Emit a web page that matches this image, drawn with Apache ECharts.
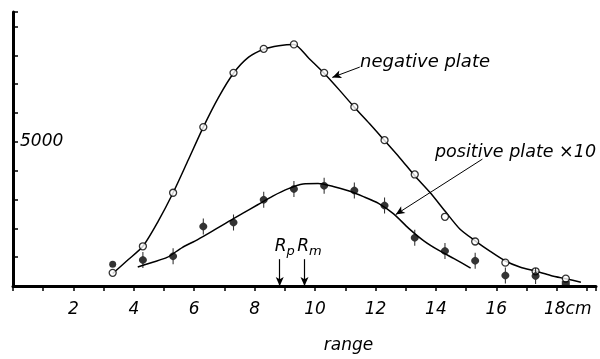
<!DOCTYPE html>
<html>
<head>
<meta charset="utf-8">
<script src="https://cdn.jsdelivr.net/npm/echarts@6/dist/echarts.min.js"></script>
<style>
  html, body { margin: 0; padding: 0; background: #fff; }
  #chart { width: 600px; height: 359px; }
</style>
</head>
<body>
<div id="chart"></div>
<script>
// measured points (range in cm)
const rangeCm = [3.3, 4.3, 5.3, 6.3, 7.3, 8.3, 9.3, 10.3, 11.3, 12.3, 13.3, 14.3, 15.3, 16.3, 17.3, 18.3];
const negativePlate = [457, 1377, 3233, 5510, 7390, 8223, 8377, 7390, 6210, 5057, 3867, 2400, 1543, 810, 510, 257];
const positivePlate = [757, 900, 1033, 2067, 2200, 2990, 3367, 3477, 3310, 2790, 1677, 1210, 877, 367, 343, 67];

// drawn curves, every half centimetre
const negCurveX = [3.3, 3.8, 4.3, 4.8, 5.3, 5.8, 6.3, 6.8, 7.3, 7.8, 8.3, 8.8, 9.3, 9.8, 10.3, 10.8, 11.3, 11.8,
    12.3, 12.8, 13.3, 13.8, 14.3, 14.8, 15.3, 15.8, 16.3, 16.8, 17.3, 17.8, 18.3, 18.8];
const negCurveY = [433, 900, 1377, 2233, 3233, 4367, 5510, 6533, 7377, 7933, 8210, 8333, 8377, 7890, 7377, 6800, 6200, 5633,
    5043, 4450, 3823, 3250, 2600, 1967, 1567, 1200, 867, 650, 517, 367, 250, 133];
const posCurveX = [4.13, 4.6, 5.1, 5.6, 6.1, 6.6, 7.1, 7.6, 8.1, 8.6, 9.1, 9.6, 10.1, 10.6, 11.1, 11.6,
    12.1, 12.6, 13.1, 13.6, 14.1, 14.6, 15.15];
const posCurveY = [657, 817, 990, 1333, 1600, 1900, 2217, 2517, 2817, 3117, 3367, 3533, 3550, 3450, 3300, 3100,
    2867, 2500, 2000, 1567, 1233, 950, 623];

// Rp / Rm marks
const rp = 8.83;
const rm = 9.65;

const xTickLabels = [2, 4, 6, 8, 10, 12, 14, 16, 18];

const FONT = 'DejaVu Sans';
const errBar = 'path://M2.6,0h0.8v3.5C5.5,4.5 6,6 6,7C6,8 5.5,9.5 3.4,10.5V14h-0.8v-3.5C0.5,9.5 0,8 0,7C0,6 0.5,4.5 2.6,3.5Z';

const chart = echarts.init(document.getElementById('chart'), null, { renderer: 'canvas' });

const posItems = rangeCm.map((x, i) => {
    const item = { value: [x, positivePlate[i]] };
    if (i === 0) { item.symbol = 'circle'; item.symbolSize = 7; }
    if (i === rangeCm.length - 1) { item.symbol = 'rect'; item.symbolSize = [8, 6]; }
    return item;
});

const option = {
    animation: false,
    grid: { left: 13, top: 12, width: 583, height: 285 },
    xAxis: {
        type: 'value',
        min: 0,
        max: 19.3,
        interval: 1,
        axisLine: { show: true, lineStyle: { color: '#000', width: 3 } },
        axisTick: { show: true, length: 5, lineStyle: { color: '#000', width: 1.5 } },
        splitLine: { show: false },
        axisLabel: {
            margin: 15,
            color: '#000',
            fontFamily: FONT,
            fontStyle: 'italic',
            fontSize: 17,
            formatter: v => {
                if (v === 18) return '{p|}18cm';
                return xTickLabels.indexOf(v) >= 0 ? String(v) : '';
            },
            rich: { p: { width: 22 } }
        },
        name: 'range',
        nameLocation: 'middle',
        nameGap: 51,
        nameTextStyle: {
            color: '#000',
            fontFamily: FONT,
            fontStyle: 'italic',
            fontSize: 17,
            padding: [0, 0, 0, 88]
        }
    },
    yAxis: {
        type: 'value',
        min: 0,
        max: 9500,
        interval: 1000,
        axisLine: { show: true, lineStyle: { color: '#000', width: 3 } },
        axisTick: { show: true, inside: true, length: 5, lineStyle: { color: '#000', width: 1.5 } },
        splitLine: { show: false },
        axisLabel: {
            inside: true,
            margin: 7,
            color: '#000',
            fontFamily: FONT,
            fontStyle: 'italic',
            fontSize: 17,
            formatter: v => (v === 5000 ? '5000' : '')
        }
    },
    series: [
        {
            type: 'line',
            data: negCurveX.map((x, i) => [x, negCurveY[i]]),
            smooth: 0.25,
            showSymbol: false,
            lineStyle: { color: '#000', width: 1.5 },
            z: 2,
            markLine: {
                silent: true,
                symbol: ['none', 'arrow'],
                symbolSize: [6, 9],
                lineStyle: { color: '#000', width: 1, type: 'solid' },
                label: { show: false },
                data: [
                    [{ coord: [11.48, 7590] }, { coord: [10.57, 7233] }],
                    [{ coord: [15.54, 4400] }, { coord: [12.67, 2477] }]
                ]
            }
        },
        {
            type: 'line',
            data: posCurveX.map((x, i) => [x, posCurveY[i]]),
            smooth: 0.25,
            showSymbol: false,
            lineStyle: { color: '#000', width: 1.5 },
            z: 2,
            markLine: {
                silent: true,
                symbol: ['none', 'arrow'],
                symbolSize: [6, 9],
                lineStyle: { color: '#000', width: 1.2, type: 'solid' },
                label: {
                    show: true,
                    position: 'start',
                    distance: 1,
                    color: '#000',
                    fontFamily: FONT,
                    fontStyle: 'italic',
                    fontSize: 17,
                    padding: [0, 0, 0, 10],
                    rich: { s: { fontFamily: FONT, fontStyle: 'italic', fontSize: 13, verticalAlign: 'bottom', padding: [10, 0, 0, 0] } }
                },
                data: [
                    [{ coord: [rp, 930], label: { formatter: 'R{s|p}' } }, { coord: [rp, 0] }],
                    [{ coord: [rm, 930], label: { formatter: 'R{s|m}' } }, { coord: [rm, 0] }]
                ]
            }
        },
        {
            type: 'scatter',
            data: rangeCm.map((x, i) => [x, negativePlate[i]]),
            symbol: 'circle',
            symbolSize: 7,
            itemStyle: { color: '#fff', borderColor: '#000', borderWidth: 1.3 },
            z: 4
        },
        {
            type: 'scatter',
            data: posItems,
            symbol: errBar,
            symbolSize: [8, 16],
            itemStyle: { color: '#000' },
            z: 4
        }
    ],
    graphic: [
        {
            type: 'text', left: 360, top: 53,
            style: { text: 'negative plate', fill: '#000', font: 'italic 18px "DejaVu Sans"' }
        },
        {
            type: 'text', left: 435, top: 143,
            style: { text: 'positive plate ×10', fill: '#000', font: 'italic 17.5px "DejaVu Sans"' }
        }
    ]
};

chart.setOption(option);
</script>
</body>
</html>
